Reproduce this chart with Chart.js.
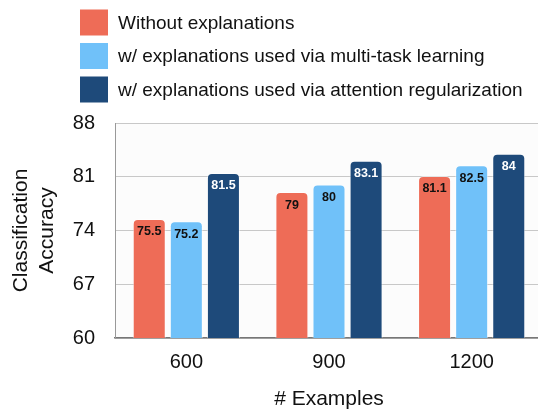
<!DOCTYPE html>
<html>
<head>
<meta charset="utf-8">
<script src="https://cdn.jsdelivr.net/npm/chart.js@4"></script>
<style>
  html, body { margin: 0; padding: 0; background: #fff; overflow: hidden; }
  #wrap { width: 543px; height: 412px; }
</style>
</head>
<body>
<div id="wrap"><canvas id="chart"></canvas></div>
<script>
const categories = ['600', '900', '1200'];
const seriesNames = [
    'Without explanations',
    'w/ explanations used via multi-task learning',
    'w/ explanations used via attention regularization'
];
const withoutExpl = [75.5, 79, 81.1];
const multiTask = [75.2, 80, 82.5];
const attnReg = [81.5, 83.1, 84];
const yTicks = [60, 67, 74, 81, 88];

const colors = ['#ee6c57', '#70c1f9', '#1e4a7a'];
const labelColors = ['#111', '#111', '#fff'];
const FONT = '"Liberation Sans", Arial, sans-serif';

// bar value labels, drawn inside the top of each bar
const valueLabels = {
    id: 'valueLabels',
    afterDatasetsDraw(chart) {
        const ctx = chart.ctx;
        ctx.save();
        ctx.font = 'bold 12.5px ' + FONT;
        ctx.textAlign = 'center';
        ctx.textBaseline = 'middle';
        chart.data.datasets.forEach((ds, i) => {
            chart.getDatasetMeta(i).data.forEach((bar, j) => {
                ctx.fillStyle = labelColors[i];
                ctx.fillText(String(ds.data[j]), bar.x, bar.y + 13);
            });
        });
        ctx.restore();
    }
};

// left-aligned legend stacked above the plot
const stackedLegend = {
    id: 'stackedLegend',
    afterDraw(chart) {
        const ctx = chart.ctx;
        ctx.save();
        ctx.font = '19px ' + FONT;
        ctx.textBaseline = 'middle';
        chart.data.datasets.forEach((ds, i) => {
            const cy = 22.5 + i * 33.5;
            ctx.fillStyle = ds.backgroundColor;
            ctx.fillRect(80, cy - 13, 28, 26);
            ctx.fillStyle = '#111';
            ctx.fillText(ds.label, 118, cy + 1);
        });
        ctx.restore();
    }
};

const plotBg = {
    id: 'plotBg',
    beforeDraw(chart) {
        const a = chart.chartArea;
        chart.ctx.save();
        chart.ctx.fillStyle = '#fcfcfc';
        chart.ctx.fillRect(a.left, a.top, a.right - a.left, a.bottom - a.top);
        chart.ctx.restore();
    }
};

const series = [withoutExpl, multiTask, attnReg];

new Chart(document.getElementById('chart'), {
    type: 'bar',
    data: {
        labels: categories,
        datasets: series.map((d, i) => ({
            label: seriesNames[i],
            data: d,
            backgroundColor: colors[i],
            borderColor: 'rgba(255,255,255,0.5)',
            borderWidth: 1,
            borderRadius: { topLeft: 5, topRight: 5 },
            borderSkipped: 'bottom',
            barPercentage: 0.89,
            categoryPercentage: 0.78
        }))
    },
    options: {
        responsive: true,
        maintainAspectRatio: false,
        animation: false,
        layout: { padding: { top: 123, left: 0, right: 0, bottom: 0 } },
        plugins: {
            legend: { display: false },
            tooltip: { enabled: false }
        },
        scales: {
            x: {
                grid: { display: false, drawTicks: false },
                border: { display: true, color: '#777', width: 1.5 },
                ticks: {
                    color: '#111',
                    padding: 12,
                    font: { family: FONT, size: 20 }
                },
                title: {
                    display: true,
                    text: '# Examples',
                    color: '#111',
                    padding: { top: 2, bottom: 0 },
                    font: { family: FONT, size: 21 }
                },
                afterFit(scale) { scale.height = 74; }
            },
            y: {
                min: 60,
                max: 88,
                afterBuildTicks(scale) {
                    scale.ticks = yTicks.map(v => ({ value: v }));
                },
                grid: { color: '#c8c8c8', drawTicks: false },
                border: { display: true, color: '#999' },
                ticks: {
                    color: '#111',
                    padding: 20,
                    font: { family: FONT, size: 20 }
                },
                title: {
                    display: true,
                    text: ['Classification', 'Accuracy'],
                    color: '#111',
                    padding: { top: 8, bottom: 0 },
                    font: { family: FONT, size: 21, lineHeight: 1.25 }
                },
                afterFit(scale) { scale.width = 115; }
            }
        }
    },
    plugins: [plotBg, valueLabels, stackedLegend]
});
</script>
</body>
</html>
